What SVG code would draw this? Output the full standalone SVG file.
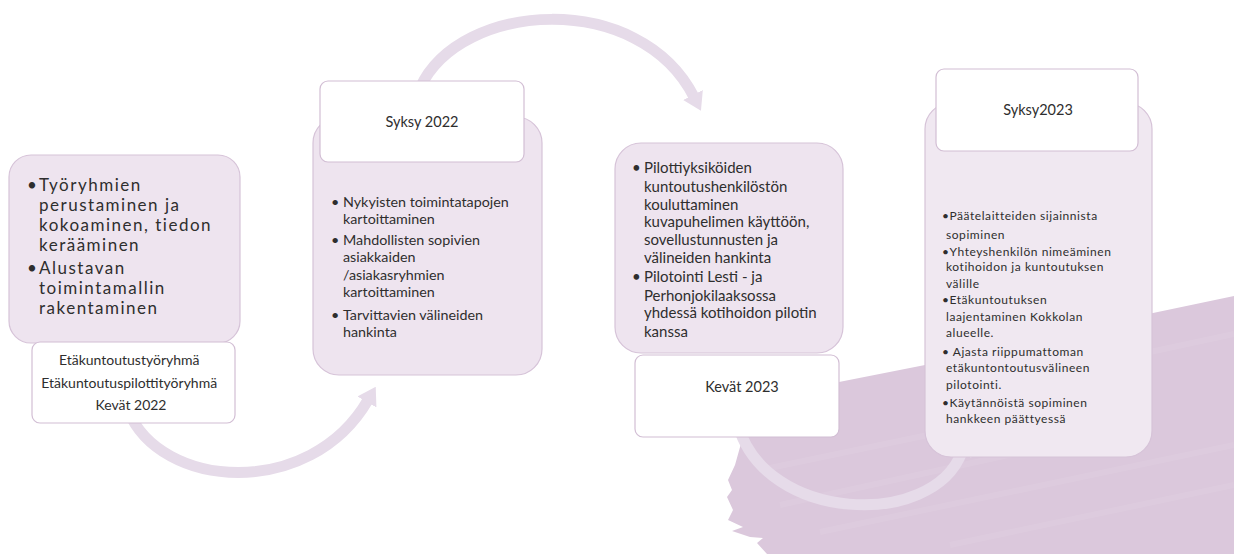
<svg xmlns="http://www.w3.org/2000/svg" width="1234" height="554" viewBox="0 0 1234 554">
  <defs>
    <style>
      .panel { fill: #eee4ef; stroke: #d6c3d8; stroke-width: 1.2; }
      .label { fill: #ffffff; stroke: #d2bed4; stroke-width: 1.2; }
      .txt { font-family: Lato, "Open Sans", "Liberation Sans", sans-serif; fill: #2e2e2e; }
      .big { font-size: 17px; letter-spacing: 1.5px; }
      .mid { font-size: 14.3px; }
      .b3 { font-size: 15px; }
      .small { font-size: 12px; letter-spacing: 0.55px; }
      .ctr { text-anchor: middle; font-size: 14px; }
      .flow { fill: none; stroke: #e6dbe9; stroke-width: 11; }
      .streak { stroke: #ffffff; stroke-opacity: 0.07; stroke-width: 6; fill: none; }
    </style>
    <marker id="head" viewBox="0 0 8 10" refX="1" refY="5" markerWidth="1.6" markerHeight="2.2" orient="auto">
      <path d="M0,0 L8,5 L0,10 z" fill="#e6dbe9"/>
    </marker>
  </defs>

  <rect width="1234" height="554" fill="#ffffff"/>

  <!-- painted backdrop stroke, lower right -->
  <g id="brush">
    <path d="M740 404 L839 382 L925 365 L1153 313 L1234 296 L1234 554 L767 554 L757 543 L763 538 L750 537 L732 531 L743 527 L728 520 L733 510 L727 497 L732 490 L728 480 L735 465 L742 440 Z" fill="#dbc8dc"/>
    <path class="streak" d="M760 470 L1000 420"/>
    <path class="streak" d="M780 505 L1100 435"/>
    <path class="streak" d="M820 532 L1234 445"/>
    <path class="streak" d="M950 545 L1234 485"/>
    <path class="streak" d="M1150 352 L1234 334"/>
  </g>

  <!-- connectors -->
  <g id="connectors">
    <path class="flow" d="M128 410 C160 490 310 500 368 400" marker-end="url(#head)"/>
    <path class="flow" d="M420 88 C460 0 640 -10 694 97" marker-end="url(#head)"/>
    <path class="flow" d="M738 425 C765 522 932 530 962 452" marker-end="url(#head)"/>
  </g>

  <!-- stage 1 -->
  <g id="stage-spring-2022">
    <rect class="panel" x="9" y="155" width="231" height="188" rx="22"/>
    <text class="txt big">
      <tspan x="27" y="191">•</tspan><tspan x="39" y="191">Työryhmien</tspan>
      <tspan x="39" y="211">perustaminen ja</tspan>
      <tspan x="39" y="231">kokoaminen, tiedon</tspan>
      <tspan x="39" y="251">kerääminen</tspan>
      <tspan x="27" y="274">•</tspan><tspan x="39" y="274">Alustavan</tspan>
      <tspan x="39" y="294">toimintamallin</tspan>
      <tspan x="39" y="314">rakentaminen</tspan>
    </text>
    <rect class="label" x="32" y="342" width="203" height="81" rx="8"/>
    <text class="txt ctr">
      <tspan x="131" y="365">Etäkuntoutustyöryhmä</tspan>
      <tspan x="131" y="388">Etäkuntoutuspilottityöryhmä</tspan>
      <tspan x="131" y="410">Kevät 2022</tspan>
    </text>
  </g>

  <!-- stage 2 -->
  <g id="stage-autumn-2022">
    <rect class="panel" x="313" y="117" width="229" height="258" rx="26"/>
    <rect class="label" x="320" y="81" width="204" height="81" rx="8"/>
    <text class="txt ctr" x="422" y="127" style="font-size:14.5px">Syksy 2022</text>
    <text class="txt mid">
      <tspan x="331" y="207">•</tspan><tspan x="343" y="207">Nykyisten toimintatapojen</tspan>
      <tspan x="343" y="224">kartoittaminen</tspan>
      <tspan x="331" y="245">•</tspan><tspan x="343" y="245">Mahdollisten sopivien</tspan>
      <tspan x="343" y="262">asiakkaiden</tspan>
      <tspan x="343" y="280">/asiakasryhmien</tspan>
      <tspan x="343" y="297">kartoittaminen</tspan>
      <tspan x="331" y="320">•</tspan><tspan x="343" y="320">Tarvittavien välineiden</tspan>
      <tspan x="343" y="337">hankinta</tspan>
    </text>
  </g>

  <!-- stage 3 -->
  <g id="stage-spring-2023">
    <rect class="label" x="635" y="355" width="204" height="82" rx="8"/>
    <text class="txt ctr" x="742" y="392" style="font-size:14.5px">Kevät 2023</text>
    <rect class="panel" x="615" y="143" width="228" height="210" rx="26"/>
    <text class="txt b3">
      <tspan x="632" y="173">•</tspan><tspan x="644" y="173">Pilottiyksiköiden</tspan>
      <tspan x="644" y="192">kuntoutushenkilöstön</tspan>
      <tspan x="644" y="210">kouluttaminen</tspan>
      <tspan x="644" y="227">kuvapuhelimen käyttöön,</tspan>
      <tspan x="644" y="245">sovellustunnusten ja</tspan>
      <tspan x="644" y="263">välineiden hankinta</tspan>
      <tspan x="632" y="282">•</tspan><tspan x="644" y="282">Pilotointi Lesti  - ja</tspan>
      <tspan x="644" y="301">Perhonjokilaaksossa</tspan>
      <tspan x="644" y="318">yhdessä kotihoidon pilotin</tspan>
      <tspan x="644" y="337">kanssa</tspan>
    </text>
  </g>

  <!-- stage 4 -->
  <g id="stage-autumn-2023">
    <rect class="panel" x="925" y="103" width="227" height="354" rx="26" style="fill:#f0e8f1"/>
    <rect class="label" x="936" y="69" width="202" height="82" rx="8"/>
    <text class="txt ctr" x="1038" y="115" style="font-size:14.5px">Syksy2023</text>
    <text class="txt small">
      <tspan x="942" y="220">•Päätelaitteiden sijainnista</tspan>
      <tspan x="946" y="239">sopiminen</tspan>
      <tspan x="942" y="256">•Yhteyshenkilön nimeäminen</tspan>
      <tspan x="946" y="271">kotihoidon ja kuntoutuksen</tspan>
      <tspan x="946" y="288">välille</tspan>
      <tspan x="942" y="304">•Etäkuntoutuksen</tspan>
      <tspan x="946" y="321">laajentaminen Kokkolan</tspan>
      <tspan x="946" y="337">alueelle.</tspan>
      <tspan x="942" y="356">• Ajasta riippumattoman</tspan>
      <tspan x="946" y="372">etäkuntontoutusvälineen</tspan>
      <tspan x="946" y="389">pilotointi.</tspan>
      <tspan x="942" y="407">•Käytännöistä sopiminen</tspan>
      <tspan x="946" y="423">hankkeen päättyessä</tspan>
    </text>
  </g>
</svg>
